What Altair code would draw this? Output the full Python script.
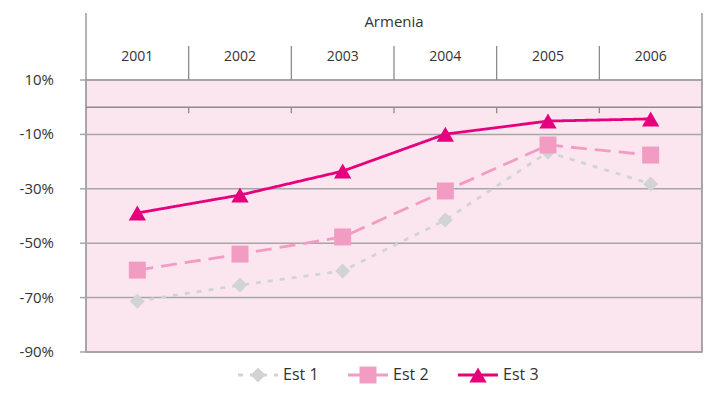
import altair as alt
import pandas as pd

years = ["2001", "2002", "2003", "2004", "2005", "2006"]
series = ["Est 1", "Est 2", "Est 3"]
est1 = [-71.3, -65.4, -60.2, -41.5, -16.5, -28.2]
est2 = [-59.9, -54.0, -47.7, -30.8, -13.9, -17.6]
est3 = [-38.9, -32.3, -23.5, -9.9, -5.1, -4.3]
country = ["Armenia"]
y_ticks = [10, -10, -30, -50, -70, -90]
y_labels = [f"{t}%" for t in y_ticks]

colors = ["#d1d3d4", "#f39cc3", "#e6007e"]
shapes = ["diamond", "square", "triangle-up"]
sizes = [225, 289, 300]
dashes = [[5, 7], [16, 8], [1, 0]]

rows = []
for s, vals in zip(series, [est1, est2, est3]):
    for yr, v in zip(years, vals):
        rows.append({"series": s, "year": yr, "value": v})
df = pd.DataFrame(rows)
years_df = pd.DataFrame({"year": years})
sep_df = pd.DataFrame({"year": years[1:]})
ticks_df = pd.DataFrame({"t": y_ticks, "label": y_labels})

W, H = 616, 272
FONT = "Open Sans"
GRID = "#a6a6a6"
LINE = "#8c8c8c"
TXT = "#333333"

# legend layout (plot-area pixel coordinates)
LEG_X0, LEG_STEP, LEG_Y, LEG_HALF = 172, 110, 295, 20

xscale = alt.Scale(type="band", domain=years, paddingInner=0, paddingOuter=0)
yscale = alt.Scale(domain=[-90, 10], nice=False, zero=False)
cscale = alt.Scale(domain=series, range=colors)


def X(band=0.5):
    return alt.X("year:N", scale=xscale, axis=None, bandPosition=band)


def Y(field):
    return alt.Y(field, scale=yscale, axis=None)


grid = alt.Chart(ticks_df).mark_rule(color=GRID, strokeWidth=1.5).encode(y=Y("t:Q"))
ytick = alt.Chart(ticks_df).mark_rule(color=GRID, strokeWidth=1.5).encode(
    y=Y("t:Q"), x=alt.value(-6), x2=alt.value(0)
)
ylab = alt.Chart(ticks_df).mark_text(
    font=FONT, fontSize=15, color=TXT, align="right", baseline="middle"
).encode(y=Y("t:Q"), x=alt.value(-32), text="label:N")

zero_line = alt.Chart(pd.DataFrame({"v": [0]})).mark_rule(
    color=LINE, strokeWidth=1.5
).encode(y=Y("v:Q"))

zero_ticks = alt.Chart(sep_df).mark_rule(color=LINE, strokeWidth=1.3).encode(
    x=X(0), y=alt.YDatum(0, scale=yscale, axis=None), y2=alt.Y2Datum(-2.2)
)

lines = alt.Chart(df).mark_line(strokeWidth=2.8).encode(
    x=X(),
    y=Y("value:Q"),
    color=alt.Color("series:N", scale=cscale, legend=None),
    strokeDash=alt.StrokeDash(
        "series:N", scale=alt.Scale(domain=series, range=dashes), legend=None
    ),
)

points = []
for s, sh, sz in zip(series, shapes, sizes):
    points.append(
        alt.Chart(df)
        .transform_filter(alt.datum.series == s)
        .mark_point(filled=True, shape=sh, size=sz, opacity=1)
        .encode(
            x=X(),
            y=Y("value:Q"),
            color=alt.Color("series:N", scale=cscale, legend=None),
        )
    )

header_seps = alt.Chart(sep_df).mark_rule(color=LINE, strokeWidth=1.3).encode(
    x=X(0), y=alt.value(-34), y2=alt.value(0)
)
left_edge = alt.Chart(pd.DataFrame({"year": [years[0]]})).mark_rule(
    color=LINE, strokeWidth=1.3
).encode(x=X(0), y=alt.value(-67), y2=alt.value(0))
right_edge = alt.Chart(pd.DataFrame({"year": [years[-1]]})).mark_rule(
    color=LINE, strokeWidth=1.3
).encode(x=X(1), y=alt.value(-67), y2=alt.value(0))

year_text = alt.Chart(years_df).mark_text(
    font=FONT, fontSize=14, color=TXT
).encode(x=X(), y=alt.value(-23), text="year:N")

country_text = alt.Chart(pd.DataFrame({"country": country})).mark_text(
    font=FONT, fontSize=15, color=TXT
).encode(x=alt.value(W / 2), y=alt.value(-58), text="country:N")

# legend built from the series lists
legend_layers = []
for i, (s, c, sh, sz, d) in enumerate(zip(series, colors, shapes, sizes, dashes)):
    cx = LEG_X0 + i * LEG_STEP
    ldf = pd.DataFrame({"series": [s]})
    base = alt.Chart(ldf)
    legend_layers.append(
        base.mark_rule(color=c, strokeWidth=2.8, strokeDash=d).encode(
            x=alt.value(cx - LEG_HALF), x2=alt.value(cx + LEG_HALF), y=alt.value(LEG_Y)
        )
    )
    legend_layers.append(
        base.mark_point(filled=True, shape=sh, size=sz, color=c, opacity=1).encode(
            x=alt.value(cx), y=alt.value(LEG_Y)
        )
    )
    legend_layers.append(
        base.mark_text(
            font=FONT, fontSize=16, color=TXT, align="left", baseline="middle"
        ).encode(x=alt.value(cx + 25), y=alt.value(LEG_Y), text="series:N")
    )

chart = alt.layer(
    grid, ytick, ylab, zero_line, zero_ticks, lines, *points,
    header_seps, left_edge, right_edge, year_text, country_text, *legend_layers,
).properties(
    width=W, height=H,
    padding={"left": 78, "top": 72, "right": 1, "bottom": 36},
    autosize=alt.AutoSizeParams(type="none"),
).configure_view(stroke=LINE, strokeWidth=1.5, fill="#fbe6f0")

chart.save("out.html", embed_options={"renderer": "svg", "actions": False})
